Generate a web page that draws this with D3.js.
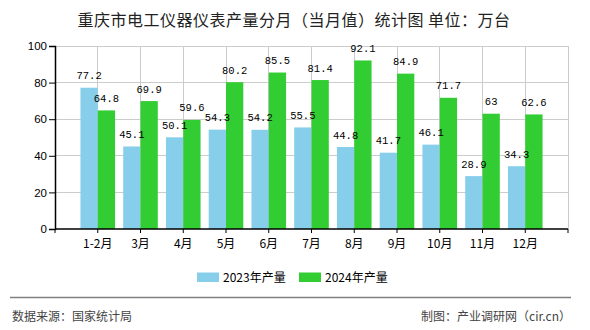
<!DOCTYPE html>
<html><head><meta charset="utf-8">
<script src="https://cdn.jsdelivr.net/npm/d3@7"></script>
<style>
html,body{margin:0;padding:0;background:#fff;}
svg{display:block;}
</style>
</head><body>
<svg id="chart" width="590" height="330"></svg>
<script>
const categories = ["1-2月","3月","4月","5月","6月","7月","8月","9月","10月","11月","12月"];
const values2023 = [77.2,45.1,50.1,54.3,54.2,55.5,44.8,41.7,46.1,28.9,34.3];
const values2024 = [64.8,69.9,59.6,80.2,85.5,81.4,92.1,84.9,71.7,63,62.6];
const seriesNames = ["2023年产量","2024年产量"];
const seriesColors = ["#87CEEB","#32CD32"];
const yTicks = [0,20,40,60,80,100];
const titleText = "重庆市电工仪器仪表产量分月（当月值）统计图 单位：万台";
const sourceText = "数据来源：国家统计局";
const creditText = "制图：产业调研网（cir.cn）";

(function(){
const svg = d3.select("#chart");
const pL = 55, pR = 568, pT = 46, pB = 229;
const step = (pR - pL) / (categories.length + 1);

const x = d3.scaleBand().domain(categories).range([pL + step/2, pR - step/2]).padding(0);
const x1 = d3.scaleBand().domain([0,1]).range([-17.3, 17.3]).padding(0);
const y = d3.scaleLinear().domain([0,100]).range([pB, pT]);
const cx = c => x(c) + x.bandwidth()/2;

// title
svg.append("text").attr("x", 294).attr("y", 26).attr("text-anchor","middle")
  .style("font-family","'Noto Sans CJK SC'").style("font-size","16px").style("letter-spacing","0.5px")
  .attr("fill","#222").text(titleText);

// grid
const grid = svg.append("g");
grid.selectAll("line.h").data(yTicks.filter(d => d > 0)).join("line")
  .attr("x1", pL).attr("x2", pR).attr("y1", d => y(d)).attr("y2", d => y(d))
  .attr("stroke","#cccccc").attr("stroke-width",1).attr("shape-rendering","crispEdges");
grid.selectAll("line.v").data(categories).join("line")
  .attr("x1", d => cx(d)).attr("x2", d => cx(d)).attr("y1", pT).attr("y2", pB)
  .attr("stroke","#cccccc").attr("stroke-width",1).attr("shape-rendering","crispEdges");
grid.append("line").attr("x1", pR).attr("x2", pR).attr("y1", pT).attr("y2", pB)
  .attr("stroke","#cccccc").attr("shape-rendering","crispEdges");

// bars
const seriesData = [values2023, values2024];
seriesData.forEach((vals, si) => {
  svg.append("g").selectAll("rect").data(vals).join("rect")
    .attr("x", (d,i) => cx(categories[i]) + x1(si))
    .attr("width", x1.bandwidth())
    .attr("y", d => y(d))
    .attr("height", d => y(0) - y(d))
    .attr("fill", seriesColors[si]);
});
// labels
seriesData.forEach((vals, si) => {
  svg.append("g").selectAll("text").data(vals).join("text")
    .attr("x", (d,i) => cx(categories[i]) + x1(si) + x1.bandwidth()/2)
    .attr("y", d => y(d) - 8.5)
    .attr("text-anchor","middle")
    .style("font-family","'Liberation Mono', monospace").style("font-size","10.5px")
    .attr("fill","#000").text(d => d);
});

// y axis
const yAxis = d3.axisLeft(y).tickValues(yTicks).tickSize(6).tickPadding(2);
const yg = svg.append("g").attr("transform", `translate(${pL},0)`).call(yAxis);
yg.select(".domain").attr("stroke","#000").attr("stroke-width",1.5);
yg.selectAll(".tick line").attr("stroke","#000");
yg.selectAll(".tick text").style("font-family","'Liberation Sans', Arial").style("font-size","11.5px").attr("fill","#000");

// x axis
const xAxis = d3.axisBottom(x).tickSize(4).tickPadding(4);
const xg = svg.append("g").attr("transform", `translate(0,${pB})`).call(xAxis);
xg.selectAll(".tick").attr("transform", d => `translate(${cx(d)},0)`);
xg.select(".domain").attr("d", `M${pL},0H${pR}`).attr("stroke","#000").attr("stroke-width",1.5);
xg.selectAll(".tick line").attr("stroke","#000");
xg.selectAll(".tick text").style("font-family","'Noto Sans CJK SC'").style("font-size","12px").attr("fill","#000").attr("dy","0.9em");
[pL, pR].forEach(p => xg.append("line").attr("x1",p).attr("x2",p).attr("y1",0).attr("y2",4).attr("stroke","#000"));

// legend
const lg = svg.append("g");
const legendX = [197, 299];
seriesNames.forEach((n, i) => {
  lg.append("rect").attr("x", legendX[i]).attr("y", 272.5).attr("width", 22).attr("height", 9.5).attr("fill", seriesColors[i]);
  lg.append("text").attr("x", legendX[i] + 26).attr("y", 282)
    .style("font-family","'Noto Sans CJK SC'").style("font-size","12px").attr("fill","#000").text(n);
});

// footer
svg.append("line").attr("x1",10).attr("x2",571).attr("y1",297.5).attr("y2",297.5).attr("stroke","#808080").attr("stroke-width",1.5);
svg.append("text").attr("x",12).attr("y",321).style("font-family","'Noto Sans CJK SC'").style("font-size","12px").attr("fill","#444").text(sourceText);
svg.append("text").attr("x",571).attr("y",321).attr("text-anchor","end").style("font-family","'Noto Sans CJK SC'").style("font-size","12px").attr("fill","#444").text(creditText);
})();
</script>
</body></html>
